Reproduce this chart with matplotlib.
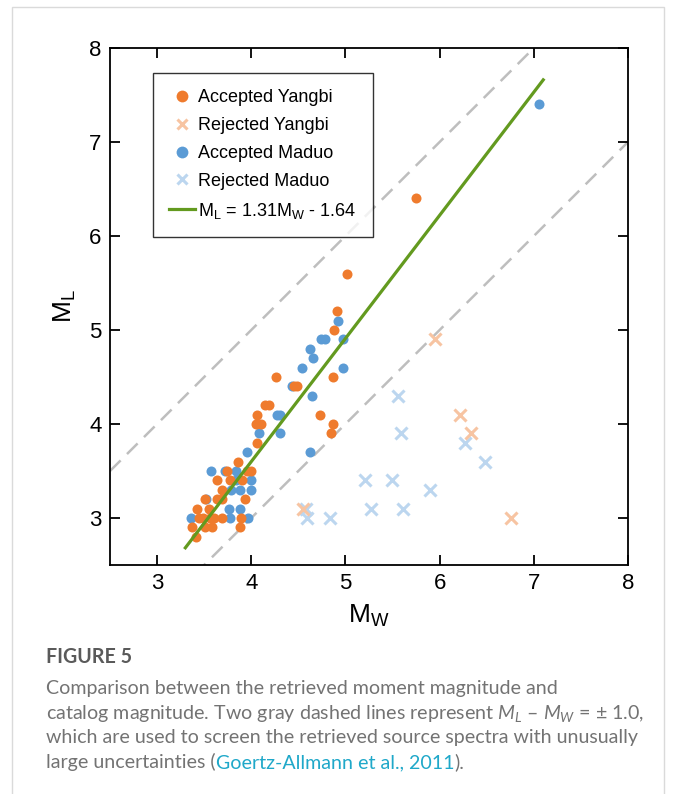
import matplotlib
matplotlib.use("Agg")
import matplotlib.pyplot as plt
from matplotlib.lines import Line2D
import numpy as np


# Data
#--------------------------------------------------------------------------------

yangbi_acc_mw = [5.75, 5.02, 4.91, 4.88, 4.26, 4.45, 4.49, 4.87, 4.15, 4.19,
                 4.06, 4.05, 4.10, 4.73, 4.87, 4.85, 4.06, 3.86, 3.74, 3.95,
                 4.00, 3.64, 3.77, 3.90, 3.69, 3.51, 3.64, 3.69, 3.93, 3.42,
                 3.55, 3.45, 3.49, 3.56, 3.60, 3.69, 3.89, 3.37, 3.51, 3.58,
                 3.88, 3.41]
yangbi_acc_ml = [6.4, 5.6, 5.2, 5.0, 4.5, 4.4, 4.4, 4.5, 4.2, 4.2,
                 4.1, 4.0, 4.0, 4.1, 4.0, 3.9, 3.8, 3.6, 3.5, 3.5,
                 3.5, 3.4, 3.4, 3.4, 3.3, 3.2, 3.2, 3.2, 3.2, 3.1,
                 3.1, 3.0, 3.0, 3.0, 3.0, 3.0, 3.0, 2.9, 2.9, 2.9,
                 2.9, 2.8]

yangbi_rej_mw = [5.95, 6.22, 6.33, 6.76, 4.55]
yangbi_rej_ml = [4.9, 4.1, 3.9, 3.0, 3.1]

maduo_acc_mw = [7.05, 4.97, 4.92, 4.74, 4.78, 4.62, 4.66, 4.54, 4.97, 4.43,
                4.65, 4.27, 4.31, 4.08, 4.31, 3.95, 4.62, 3.57, 3.72, 3.84,
                3.84, 4.00, 3.78, 3.88, 4.00, 3.52, 3.76, 3.88, 3.36, 3.77,
                3.97]
maduo_acc_ml = [7.4, 4.9, 5.1, 4.9, 4.9, 4.8, 4.7, 4.6, 4.6, 4.4,
                4.3, 4.1, 4.1, 3.9, 3.9, 3.7, 3.7, 3.5, 3.5, 3.5,
                3.4, 3.4, 3.3, 3.3, 3.3, 3.2, 3.1, 3.1, 3.0, 3.0,
                3.0]

maduo_rej_mw = [5.56, 5.59, 6.27, 6.48, 5.21, 5.49, 5.90, 5.27, 5.61, 4.59,
                4.84, 4.58]
maduo_rej_ml = [4.3, 3.9, 3.8, 3.6, 3.4, 3.4, 3.3, 3.1, 3.1, 3.0,
                3.0, 3.1]

fit_slope = 1.31
fit_intercept = -1.64
fit_range = [3.3, 7.1]
screen_offset = 1.0

caption_title = "FIGURE 5"
caption_lines = [
    "Comparison between the retrieved moment magnitude and",
    "catalog magnitude. Two gray dashed lines represent $M_L$ \u2013 $M_W$ = \u00b1 1.0,",
    "which are used to screen the retrieved source spectra with unusually",
]
caption_last = ["large uncertainties (", "Goertz-Allmann et al., 2011", ")."]


# Style
#--------------------------------------------------------------------------------

plt.rcParams["font.family"] = ["Liberation Sans", "DejaVu Sans"]
plt.rcParams["mathtext.fontset"] = "custom"
plt.rcParams["mathtext.rm"] = "Liberation Sans"
plt.rcParams["mathtext.it"] = "Lato:italic"

ORANGE = "#EF7B2D"
BLUE = "#5B9BD5"
ORANGE_LIGHT = "#F7C4A2"
BLUE_LIGHT = "#BCD6EF"
GREEN = "#639A1F"
DASH_GRAY = "#BEBEBE"
CAPTION_GRAY = "#737373"
LINK = "#1FA8C9"

W, H = 677, 794

fig = plt.figure(figsize=(W / 100, H / 100), dpi=100)

# light frame round the whole figure
fig.add_artist(plt.Rectangle(
    (12 / W, -0.05), (664 - 12) / W, 1.05 - 7 / H,
    transform=fig.transFigure, fill=False,
    edgecolor="#DADADA", linewidth=1.0
))

ax = fig.add_axes([110 / W, 1 - 565 / H, (628 - 110) / W, (565 - 48) / H])


# ----------------------------------------
# +/- 1 screening lines
# ----------------------------------------

xs = np.array([2.5, 8.0])

ax.plot(xs, xs + screen_offset, linestyle=(0, (6, 3.6)), color=DASH_GRAY,
        linewidth=1.8, zorder=1)
ax.plot(xs, xs - screen_offset, linestyle=(0, (6, 3.6)), color=DASH_GRAY,
        linewidth=1.8, zorder=1)


# ----------------------------------------
# Events
# ----------------------------------------

ax.scatter(maduo_rej_mw, maduo_rej_ml, marker="x", s=75, color=BLUE_LIGHT,
           linewidths=2.2, zorder=2)
ax.scatter(yangbi_rej_mw, yangbi_rej_ml, marker="x", s=75, color=ORANGE_LIGHT,
           linewidths=2.2, zorder=2)
ax.scatter(maduo_acc_mw, maduo_acc_ml, s=52, color=BLUE, linewidths=0, zorder=3)
ax.scatter(yangbi_acc_mw, yangbi_acc_ml, s=52, color=ORANGE, linewidths=0, zorder=3)


# ----------------------------------------
# Fitted relation
# ----------------------------------------

fit_x = np.array(fit_range)
ax.plot(fit_x, fit_slope * fit_x + fit_intercept, color=GREEN, linewidth=2.3,
        zorder=4)


# ----------------------------------------
# Axes
# ----------------------------------------

ax.set_xlim(2.5, 8)
ax.set_ylim(2.5, 8)
ax.set_xticks([3, 4, 5, 6, 7, 8])
ax.set_yticks([3, 4, 5, 6, 7, 8])

ax.tick_params(direction="in", length=7, width=1.3, labelsize=16,
               top=True, right=True, pad=6)
for spine in ax.spines.values():
    spine.set_linewidth(1.3)

ax.set_xlabel(r"$\mathrm{M_W}$", fontsize=19, labelpad=6)
ax.set_ylabel(r"$\mathrm{M_L}$", fontsize=19, labelpad=8)


# ----------------------------------------
# Legend
# ----------------------------------------

handles = [
    Line2D([], [], linestyle="none", marker="o", markersize=8.5,
           markerfacecolor=ORANGE, markeredgewidth=0),
    Line2D([], [], linestyle="none", marker="x", markersize=7.5,
           color=ORANGE_LIGHT, markeredgewidth=2.2),
    Line2D([], [], linestyle="none", marker="o", markersize=8.5,
           markerfacecolor=BLUE, markeredgewidth=0),
    Line2D([], [], linestyle="none", marker="x", markersize=7.5,
           color=BLUE_LIGHT, markeredgewidth=2.2),
    Line2D([], [], color=GREEN, linewidth=2.3),
]
labels = [
    "Accepted Yangbi",
    "Rejected Yangbi",
    "Accepted Maduo",
    "Rejected Maduo",
    r"$\mathrm{M_L}$ = 1.31$\mathrm{M_W}$ - 1.64",
]

legend = ax.legend(
    handles, labels,
    loc="upper left",
    bbox_to_anchor=((153 - 110) / 518, (565 - 73) / 517),
    borderaxespad=0,
    fontsize=13,
    frameon=True,
    fancybox=False,
    edgecolor="black",
    handlelength=1.4,
    handletextpad=0.2,
    labelspacing=0.6,
    borderpad=0.9,
)
legend.get_frame().set_linewidth(1.0)


# ----------------------------------------
# Caption
# ----------------------------------------

cap_x = 46 / W
cap_size = 14.1

fig.text(cap_x, 1 - 657 / H, caption_title, family="Lato", weight="bold",
         fontsize=cap_size, color="#5A5A5A", va="center")

for i, line in enumerate(caption_lines):
    fig.text(cap_x, 1 - (694 + 24.7 * i) / H, line, family="Lato",
             fontsize=cap_size, color=CAPTION_GRAY, va="baseline")

t1 = fig.text(cap_x, 1 - (694 + 24.7 * 3) / H, caption_last[0], family="Lato",
              fontsize=cap_size, color=CAPTION_GRAY, va="baseline")
t2 = plt.annotate(caption_last[1], xy=(1, 0), xycoords=t1, va="bottom",
                  family="Lato", fontsize=cap_size, color=LINK,
                  annotation_clip=False)
plt.annotate(caption_last[2], xy=(1, 0), xycoords=t2, va="bottom",
             family="Lato", fontsize=cap_size, color=CAPTION_GRAY,
             annotation_clip=False)

fig.savefig("out.png", dpi=100)
plt.close(fig)
